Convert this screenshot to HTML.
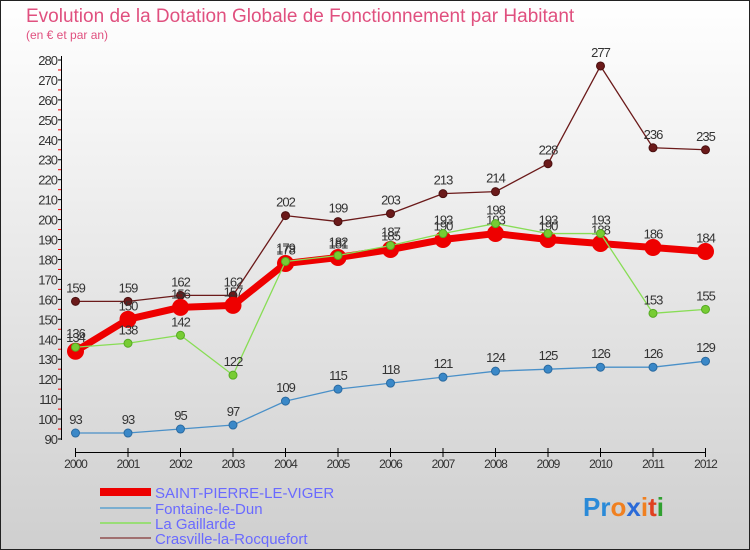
<!DOCTYPE html>
<html><head><meta charset="utf-8"><style>
body{margin:0}
#c{width:750px;height:550px;position:relative;overflow:hidden;font-family:"Liberation Sans","DejaVu Sans",sans-serif}
svg text{font-family:"Liberation Sans","DejaVu Sans",sans-serif}
</style></head><body>
<div id="c">
<svg id="s" width="750" height="550" xmlns="http://www.w3.org/2000/svg">
<defs><linearGradient id="bg" x1="0" y1="0" x2="0" y2="1"><stop offset="0" stop-color="#ffffff"/><stop offset="1" stop-color="#cfcfcf"/></linearGradient></defs>
<rect x="0.5" y="0.5" width="749" height="549" fill="url(#bg)" stroke="#222"/>
<text x="26" y="22" font-size="19" fill="#e0507f">Evolution de la Dotation Globale de Fonctionnement par Habitant</text>
<text x="26" y="39" font-size="12" fill="#e0507f">(en € et par an)</text>
<g id="axes"></g><g id="series"></g>
<g>
<rect x="100" y="488" width="51" height="8" fill="#e00"/>
<text x="155" y="498" font-size="15" fill="#6a6aff">SAINT-PIERRE-LE-VIGER</text>
<rect x="100" y="507" width="51" height="2" fill="#7aaed0"/>
<text x="155" y="514" font-size="15" fill="#6a6aff">Fontaine-le-Dun</text>
<rect x="100" y="522" width="51" height="2" fill="#99dd77"/>
<text x="155" y="529" font-size="15" fill="#6a6aff">La Gaillarde</text>
<rect x="100" y="537" width="51" height="2" fill="#a07070"/>
<text x="155" y="544" font-size="15" fill="#6a6aff">Crasville-la-Rocquefort</text>
</g>
<text x="583" y="516" font-size="26" font-weight="bold"><tspan fill="#2a8ad8">Pr</tspan><tspan fill="#f08020">o</tspan><tspan fill="#2a6ad8">x</tspan><tspan fill="#f08020">i</tspan><tspan fill="#e04020">t</tspan><tspan fill="#30a030">i</tspan></text>
</svg></div>
<script>
const years=["2000","2001","2002","2003","2004","2005","2006","2007","2008","2009","2010","2011","2012"];
const yTicks=[90,100,110,120,130,140,150,160,170,180,190,200,210,220,230,240,250,260,270,280];
const saintPierre=[134,150,156,157,178,181,185,190,193,190,188,186,184];
const fontaine=[93,93,95,97,109,115,118,121,124,125,126,126,129];
const gaillarde=[136,138,142,122,179,182,187,193,198,193,193,153,155];
const crasville=[159,159,162,162,202,199,203,213,214,228,277,236,235];
const NS="http://www.w3.org/2000/svg";
const xs=i=>75.5+i*52.5;
const ys=v=>439-(v-90)*(379/190);
function mk(t,a,p){const e=document.createElementNS(NS,t);for(const k in a)e.setAttribute(k,a[k]);p.appendChild(e);return e;}
const ax=document.getElementById('axes');
let l=mk('line',{x1:61.5,y1:56,x2:61.5,y2:440,stroke:'#000'},ax);


yTicks.forEach(v=>{
 mk('line',{x1:58,x2:62,y1:ys(v),y2:ys(v),stroke:'#000'},ax);
 if(v<280)mk('line',{x1:58,x2:61,y1:ys(v+5),y2:ys(v+5),stroke:'#e00'},ax);
 const t=mk('text',{x:57,y:ys(v)+5,'font-size':13,'text-anchor':'end',fill:'#333','letter-spacing':'-1'},ax);
 t.textContent=v;
 
 
});
l=mk('line',{x1:xs(0),y1:452.5,x2:xs(12),y2:452.5,stroke:'#000'},ax);


years.forEach((y,i)=>{
 mk('line',{x1:xs(i),x2:xs(i),y1:448,y2:457,stroke:'#000'},ax);
 const t=mk('text',{x:xs(i),y:468,'font-size':12,'text-anchor':'middle',fill:'#333','letter-spacing':'-1'},ax);
 t.textContent=y;
 
 
});
const sg=document.getElementById('series');
function series(name,data,color,dot,w,r,stroke){
 const g=mk('g',{},sg);
 
 
 mk('polyline',{points:data.map((v,i)=>xs(i)+','+ys(v)).join(' '),fill:'none',stroke:color,'stroke-width':w,'stroke-linejoin':'round'},g);
 data.forEach((v,i)=>{
  const c=mk('circle',{cx:xs(i),cy:ys(v),r:r,fill:dot,stroke:stroke,'stroke-width':1},g);
  
  
  const t=mk('text',{x:xs(i),y:ys(v)-9,'font-size':13,'text-anchor':'middle',fill:'#333','letter-spacing':'-1'},g);
  t.textContent=v;
  
  
 });
}
series('crasville-series',crasville,'#6b1a1a','#6b1a1a',1.3,4,'#4a1010');
series('fontaine-series',fontaine,'#4a90c8','#3a88c8',1.3,4,'#2a6aa0');
series('saint-pierre-series',saintPierre,'#ee0000','#ee0000',7,8,'#ee0000');
series('gaillarde-series',gaillarde,'#88dd55','#77cc33',1.3,4,'#55aa22');
</script>
</body></html>
